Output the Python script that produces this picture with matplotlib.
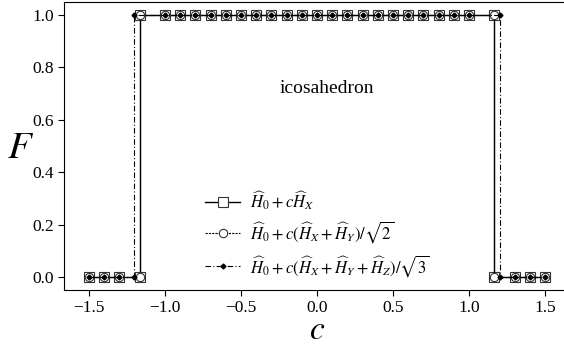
import numpy as np
import matplotlib
matplotlib.use("Agg")
import matplotlib.pyplot as plt

plt.rcParams["font.family"] = ["Liberation Serif", "DejaVu Serif"]
plt.rcParams["mathtext.fontset"] = "stix"

# data
c_top = [-1.0, -0.9, -0.8, -0.7, -0.6, -0.5, -0.4, -0.3, -0.2, -0.1, 0.0,
         0.1, 0.2, 0.3, 0.4, 0.5, 0.6, 0.7, 0.8, 0.9, 1.0]
c_low = [-1.5, -1.4, -1.3]
c_high = [1.3, 1.4, 1.5]
c_jump_xy = 1.163    # jump for H_X and (H_X+H_Y)/sqrt2
c_jump_xyz = 1.205   # jump for (H_X+H_Y+H_Z)/sqrt3

def series(cj):
    c = c_low + [-cj, -cj] + c_top + [cj, cj] + c_high
    F = [0.0] * len(c_low) + [0.0, 1.0] + [1.0] * len(c_top) + [1.0, 0.0] + [0.0] * len(c_high)
    return c, F

c1, F1 = series(c_jump_xy)
c2, F2 = series(c_jump_xy)
c3, F3 = series(c_jump_xyz)

fig = plt.figure(figsize=(5.64, 3.45), dpi=100)
ax = fig.add_axes([64 / 564, 55 / 345, 506 / 564, 288 / 345])

ax.plot(c1, F1, "-", color="k", lw=1.0, marker="s", ms=7, mfc="white", mec="#333333", mew=0.8,
        label=r"$\widehat{H}_0+c\widehat{H}_X$")
ax.plot(c2, F2, color="k", lw=0.8, ls=(0, (2, 1)), marker="o", ms=6, mfc="white", mec="#333333", mew=0.8,
        label=r"$\widehat{H}_0+c(\widehat{H}_X+\widehat{H}_Y)/\sqrt{2}$")
ax.plot(c3, F3, color="k", lw=0.8, ls=(0, (5, 2, 1, 2)), marker="D", ms=2.5, mfc="k", mec="k",
        label=r"$\widehat{H}_0+c(\widehat{H}_X+\widehat{H}_Y+\widehat{H}_Z)/\sqrt{3}$")

ax.set_xlim(-1.665, 1.665)
ax.set_ylim(-0.05, 1.05)
ax.set_xticks([-1.5, -1.0, -0.5, 0.0, 0.5, 1.0, 1.5])
ax.set_yticks([0.0, 0.2, 0.4, 0.6, 0.8, 1.0])
ax.tick_params(labelsize=12.5, direction="out", length=4)
ax.spines["right"].set_visible(False)

ax.set_xlabel(r"$c$", fontsize=24, va="center")
ax.xaxis.set_label_coords(0.5, -0.14)
ax.set_ylabel(r"$F$", fontsize=28, rotation=0, va="center")
ax.yaxis.set_label_coords(-0.085, 0.49)

ax.text(0.068, 0.72, "icosahedron", fontsize=14, ha="center", va="center")

ax.legend(loc="upper left", bbox_to_anchor=(190 / 564, 1 - 174 / 345), bbox_transform=fig.transFigure,
          frameon=False, fontsize=12, numpoints=1, handlelength=2.1, handletextpad=0.6,
          labelspacing=0.45)

fig.savefig("out.png", dpi=100)
